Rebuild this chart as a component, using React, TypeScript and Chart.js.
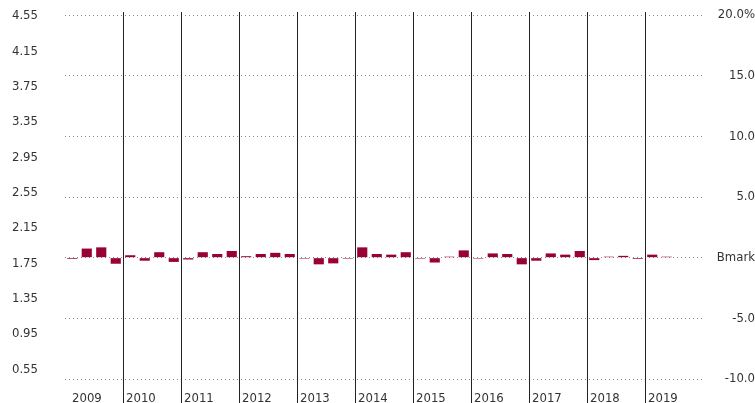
import React, { useEffect, useRef } from "react";
import { Chart, registerables } from "chart.js";

Chart.register(...registerables);

const years = ["2009", "2010", "2011", "2012", "2013", "2014", "2015", "2016", "2017", "2018", "2019"];
const quarters = ["Q1", "Q2", "Q3", "Q4"];
const categories = years.flatMap((y) => quarters.map((q) => `${y} ${q}`));

// quarterly return relative to benchmark (%)
const relativeReturns: (number | null)[] = [
  -0.1, 0.75, 0.85, -0.5,
  0.2, -0.25, 0.45, -0.35,
  -0.15, 0.45, 0.3, 0.55,
  0.12, 0.3, 0.4, 0.3,
  -0.08, -0.55, -0.47, -0.08,
  0.85, 0.3, 0.25, 0.45,
  -0.08, -0.4, 0.08, 0.6,
  -0.08, 0.35, 0.3, -0.55,
  -0.25, 0.35, 0.25, 0.55,
  -0.2, 0.08, 0.15, -0.1,
  0.25, 0.08, null, null,
];

const leftTicks = [0.55, 0.95, 1.35, 1.75, 2.15, 2.55, 2.95, 3.35, 3.75, 4.15, 4.55];
const rightTickMin = -10;
const rightTickMax = 20;
const rightTickStep = 5;

const FONT = "'DejaVu Sans Condensed', 'DejaVu Sans', sans-serif";
const FONT_SIZE = 13;
const TEXT = "#333333";

const yearPlugin = {
  id: "yearDividers",
  afterDatasetsDraw(chart: any) {
    const ctx = chart.ctx;
    const x = chart.scales.x;
    const { top } = chart.chartArea;
    ctx.save();
    ctx.strokeStyle = "#222222";
    ctx.lineWidth = 1;
    ctx.fillStyle = TEXT;
    ctx.font = `${FONT_SIZE}px ${FONT}`;
    ctx.textAlign = "left";
    ctx.textBaseline = "alphabetic";
    years.forEach((yr, i) => {
      const px = Math.round(x.getPixelForValue(i * quarters.length - 0.5));
      if (i > 0) {
        ctx.beginPath();
        ctx.moveTo(px + 0.5, top - 3);
        ctx.lineTo(px + 0.5, chart.height);
        ctx.stroke();
      }
      ctx.fillText(yr, px + (i === 0 ? 7 : 3), chart.height - 1);
    });
    ctx.restore();
  },
};

function App() {
  const ref = useRef<HTMLCanvasElement | null>(null);
  useEffect(() => {
    if (!ref.current) return;
    const chart = new Chart(ref.current, {
      type: "bar",
      data: {
        labels: categories,
        datasets: [
          {
            data: relativeReturns,
            backgroundColor: "#990033",
            borderWidth: 0,
            yAxisID: "y",
            categoryPercentage: 1,
            barPercentage: 0.7,
          },
        ],
      },
      plugins: [yearPlugin],
      options: {
        animation: false,
        responsive: true,
        maintainAspectRatio: false,
        layout: { padding: { top: 15, bottom: 24, left: 0, right: 0 } },
        plugins: { legend: { display: false }, tooltip: { enabled: false } },
        scales: {
          x: { display: false },
          yL: {
            position: "left",
            min: 0.4403,
            max: 4.5613,
            grid: { display: false, drawTicks: false },
            border: { display: false },
            afterFit: (s: any) => {
              s.width = 65;
              s.paddingTop = 0;
              s.paddingBottom = 0;
            },
            afterBuildTicks: (s: any) => {
              s.ticks = leftTicks.map((v) => ({ value: v }));
            },
            ticks: {
              padding: 27,
              color: TEXT,
              font: { family: FONT, size: FONT_SIZE },
              callback: (v: any) => Number(v).toFixed(2),
            },
          },
          y: {
            position: "right",
            min: rightTickMin,
            max: rightTickMax,
            grid: { color: "#8a8a8a", drawTicks: false, lineWidth: 1 },
            border: { display: false, dash: [1, 3] },
            afterFit: (s: any) => {
              s.width = 52;
              s.paddingTop = 0;
              s.paddingBottom = 0;
            },
            ticks: {
              stepSize: rightTickStep,
              crossAlign: "far",
              padding: 8,
              color: TEXT,
              font: { family: FONT, size: FONT_SIZE },
              callback: (v: any) => {
                const n = Number(v);
                if (n === 0) return "Bmark";
                if (n === rightTickMax) return n.toFixed(1) + "%";
                return n.toFixed(1);
              },
            },
          },
        },
      },
    });
    return () => chart.destroy();
  }, []);
  return (
    <div style={{ position: "fixed", left: 0, top: 0, width: 755, height: 403, background: "#fff" }}>
      <canvas ref={ref} />
    </div>
  );
}

export default App;
